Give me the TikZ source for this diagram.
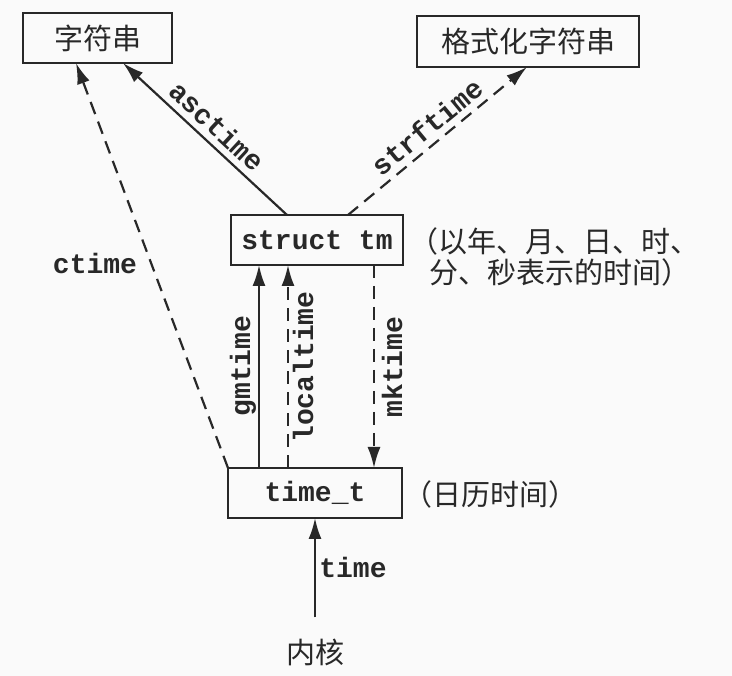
\documentclass[tikz,border=0pt]{standalone}
\usepackage{fontspec}
\setmonofont{Liberation Mono}
\newfontfamily\cjk{Noto Sans CJK SC}
\usetikzlibrary{arrows.meta,calc}
\definecolor{ink}{RGB}{40,40,40}
\definecolor{bg}{RGB}{250,250,250}
\begin{document}
\begin{tikzpicture}[x=1pt,y=-1pt,
  box/.style={draw=ink, line width=2.2pt, minimum height=50pt, inner sep=0pt, outer sep=0pt},
  mono/.style={font=\fontsize{28}{30}\selectfont\ttfamily\bfseries, text=ink, inner sep=0pt},
  cn/.style={font=\fontsize{29}{31}\selectfont\cjk, text=ink},
  solidarrow/.style={draw=ink, line width=2.2pt, -{Latex[length=21pt,width=13pt]}},
  dasharrow/.style={solidarrow, dash pattern=on 13pt off 8pt}
]
\fill[bg] (0,0) rectangle (732,676);
\useasboundingbox (0,0) rectangle (732,676);

% boxes
\node[box, cn, minimum width=149pt] (s1) at (97.5,38) {字符串};
\node[box, cn, minimum width=222pt, minimum height=51pt] (s2) at (528,41.5) {格式化字符串};
\node[box, mono, minimum width=172pt] (st) at (317,240) {struct tm};
\node[box, mono, minimum width=174pt] (tt) at (315,493) {time\_t};
\node[cn, inner sep=0pt] (kn) at (315,652) {内核};

% side notes
\node[cn, inner sep=0pt, anchor=west, align=left] (n1) at (409,257) {（以年、月、日、时、\\\hspace*{20pt}分、秒表示的时间）};
\node[cn, inner sep=0pt, anchor=west] (n2) at (403,494) {（日历时间）};

% connectors
\draw[solidarrow] ([xshift=56pt]st.north west) -- ([xshift=100pt]s1.south west);
\draw[dasharrow] ([xshift=117pt]st.north west) -- ([xshift=110pt]s2.south west);
\draw[dasharrow] (tt.north west) -- ([xshift=53pt]s1.south west);
\draw[solidarrow] ([xshift=31pt]tt.north west) -- ([xshift=31pt]tt.north west |- st.south);
\draw[dasharrow] ([xshift=60pt]tt.north west) -- ([xshift=60pt]tt.north west |- st.south);
\draw[dasharrow] ([xshift=143pt]st.south west) -- ([xshift=143pt]st.south west |- tt.north);
\draw[solidarrow, shorten <=21pt] (kn) -- (tt);

% labels
\node[mono, rotate=-42.8] (la) at (217,126) {asctime};
\node[mono, rotate=39.6] (lb) at (427,127) {strftime};
\node[mono] (lc) at (95,263) {ctime};
\node[mono, rotate=90] (lg) at (243,366) {gmtime};
\node[mono, rotate=90] (ll) at (303,367) {localtime};
\node[mono, rotate=90] (lm) at (392,367) {mktime};
\node[mono] (lt) at (353,567) {time};
\end{tikzpicture}
\end{document}
